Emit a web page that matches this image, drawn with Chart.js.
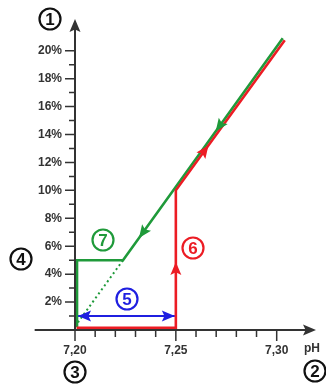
<!DOCTYPE html>
<html>
<head>
<meta charset="utf-8">
<script src="https://cdn.jsdelivr.net/npm/chart.js@4.4.0/dist/chart.umd.min.js"></script>
<style>
html,body{margin:0;padding:0;background:#fff;}
#wrap{width:326px;height:385px;}
</style>
</head>
<body>
<div id="wrap"><canvas id="chart" width="326" height="385"></canvas></div>
<script>
/* ---------- data (pH on x, % on y) ---------- */
const redX   = [7.2008, 7.25, 7.25, 7.304];
const redY   = [0.15, 0.15, 10.0, 20.75];
const greenX = [7.303, 7.2238, 7.201, 7.201];
const greenY = [20.9, 5.0, 5.0, 0.2];
const dotX   = [7.2238, 7.2015];
const dotY   = [5.0, 0.55];
const blueX  = [7.2015, 7.2495];
const blueY  = [1.0, 1.0];

const xMin = 7.20, xMax = 7.318;
const yMin = 0, yMax = 22.2;
const xLabelTicks = [7.20, 7.25, 7.30];
const yLabelTicks = [2, 4, 6, 8, 10, 12, 14, 16, 18, 20];

/* ---------- colours ---------- */
const RED = '#ec1c24', GREEN = '#1f9a3a', BLUE = '#1f1fe0', AXIS = '#333', INK = '#111';
const FONT = '"Liberation Sans", Arial, sans-serif';

const pts = (xs, ys) => xs.map((x, i) => ({ x, y: ys[i] }));

/* arrowheads: dataset index, segment index, fraction along the segment, reversed? */
const arrows = [
  { ds: 1, seg: 0, t: 0.42 },
  { ds: 1, seg: 0, t: 0.90 },
  { ds: 0, seg: 2, t: 0.30 },
  { ds: 0, seg: 1, t: 0.48 },
  { ds: 3, seg: 0, t: 0.0, rev: true },
  { ds: 3, seg: 0, t: 1.0 }
];

/* circled numbers (pixel positions) */
const marks = [
  { t: '1', c: INK,   x: 50,  y: 19 },
  { t: '2', c: INK,   x: 315, y: 371 },
  { t: '3', c: INK,   x: 75,  y: 372 },
  { t: '4', c: INK,   x: 21,  y: 259 },
  { t: '5', c: BLUE,  x: 127, y: 299 },
  { t: '6', c: RED,   x: 193, y: 248 },
  { t: '7', c: GREEN, x: 103, y: 240 }
];

function arrowHead(ctx, x, y, ang, color) {
  const L = 13, W = 5.5;
  ctx.save();
  ctx.translate(x, y); ctx.rotate(ang);
  ctx.fillStyle = color;
  ctx.beginPath();
  ctx.moveTo(0, 0); ctx.lineTo(-L, -W); ctx.lineTo(-L * 0.8, 0); ctx.lineTo(-L, W);
  ctx.closePath(); ctx.fill();
  ctx.restore();
}

const decor = {
  id: 'decor',
  afterDatasetsDraw(chart) {
    const ctx = chart.ctx, xs = chart.scales.x, ys = chart.scales.y;
    const x0 = xs.getPixelForValue(xMin), y0 = ys.getPixelForValue(0);
    ctx.save();
    /* axes */
    ctx.strokeStyle = AXIS; ctx.lineWidth = 2;
    ctx.beginPath();
    ctx.moveTo(xs.getPixelForValue(7.18), y0); ctx.lineTo(xs.right - 4, y0);
    ctx.moveTo(x0, y0 + 1); ctx.lineTo(x0, ys.top + 4);
    ctx.stroke();
    arrowHead(ctx, xs.right + 3, y0, 0, AXIS);
    arrowHead(ctx, x0, ys.top - 1, -Math.PI / 2, AXIS);
    /* tick marks */
    ctx.lineWidth = 1.5;
    ctx.beginPath();
    xs.ticks.forEach(tk => {
      const r = Math.round(tk.value * 100);
      if (Math.abs(tk.value * 100 - r) > 1e-6) return;
      const p = xs.getPixelForValue(tk.value);
      ctx.moveTo(p, y0); ctx.lineTo(p, y0 + (r % 5 === 0 ? 11 : 7));
    });
    ys.ticks.forEach(tk => {
      const v = tk.value;
      if (v < 1 || v > 20 || Math.abs(v - Math.round(v)) > 1e-6) return;
      const p = ys.getPixelForValue(v);
      ctx.moveTo(x0, p); ctx.lineTo(x0 - (v % 2 === 0 ? 10 : 6), p);
    });
    ctx.stroke();
    /* arrowheads on the paths */
    arrows.forEach(a => {
      const meta = chart.getDatasetMeta(a.ds);
      const p = meta.data[a.seg], q = meta.data[a.seg + 1];
      const x = p.x + (q.x - p.x) * a.t, y = p.y + (q.y - p.y) * a.t;
      let ang = Math.atan2(q.y - p.y, q.x - p.x);
      if (a.rev) ang += Math.PI;
      arrowHead(ctx, x, y, ang, chart.data.datasets[a.ds].borderColor);
    });
    /* pH label */
    ctx.fillStyle = AXIS;
    ctx.font = 'bold 12px ' + FONT;
    ctx.textAlign = 'center'; ctx.textBaseline = 'middle';
    ctx.fillText('pH', 312, 349);
    /* circled numbers */
    marks.forEach(m => {
      ctx.strokeStyle = m.c; ctx.fillStyle = m.c; ctx.lineWidth = 2.2;
      ctx.beginPath(); ctx.arc(m.x, m.y, 10.5, 0, Math.PI * 2); ctx.stroke();
      ctx.font = 'bold 17px ' + FONT;
      ctx.fillText(m.t, m.x, m.y + 1);
    });
    ctx.restore();
  }
};

new Chart(document.getElementById('chart'), {
  type: 'scatter',
  data: {
    datasets: [
      { data: pts(redX, redY), borderColor: RED, borderWidth: 2.6 },
      { data: pts(greenX, greenY), borderColor: GREEN, borderWidth: 2.6 },
      { data: pts(dotX, dotY), borderColor: GREEN, borderWidth: 2, borderDash: [2, 3] },
      { data: pts(blueX, blueY), borderColor: BLUE, borderWidth: 2 }
    ].map(d => Object.assign(d, { showLine: true, pointRadius: 0, fill: false, clip: false, tension: 0 }))
  },
  options: {
    responsive: false,
    devicePixelRatio: 1,
    animation: false,
    layout: { padding: { top: 20, right: 13, left: 0, bottom: 0 } },
    plugins: { legend: { display: false }, tooltip: { enabled: false } },
    scales: {
      x: {
        type: 'linear', min: xMin, max: xMax,
        grid: { display: false }, border: { display: false },
        afterFit: s => { s.height = 55; },
        ticks: {
          stepSize: 0.01, autoSkip: false, maxRotation: 0, padding: 5,
          color: AXIS, font: { family: FONT, size: 12, weight: 'bold' },
          callback: v => xLabelTicks.some(t => Math.abs(t - v) < 1e-6) ? v.toFixed(2).replace('.', ',') : ''
        }
      },
      y: {
        type: 'linear', min: yMin, max: yMax,
        grid: { display: false }, border: { display: false },
        afterFit: s => { s.width = 75; },
        ticks: {
          stepSize: 1, autoSkip: false, padding: 5,
          color: AXIS, font: { family: FONT, size: 12, weight: 'bold' },
          callback: v => yLabelTicks.some(t => Math.abs(t - v) < 1e-6) ? v + '%' : ''
        }
      }
    }
  },
  plugins: [decor]
});
</script>
</body>
</html>
